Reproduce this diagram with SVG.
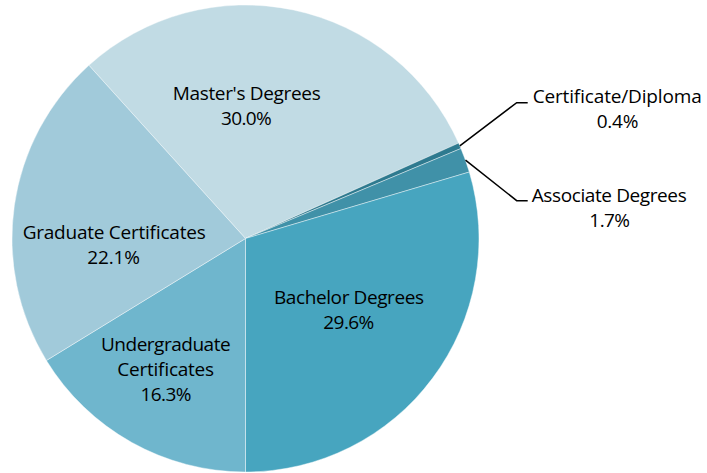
<svg xmlns="http://www.w3.org/2000/svg" width="707" height="473" viewBox="0 0 707 473">
<style>
.s{stroke:#ffffff;stroke-opacity:0.55;stroke-width:0.75;stroke-linejoin:round}
.t{font-family:"Open Sans","Noto Sans","Liberation Sans",sans-serif;font-size:19px;fill:#000;text-anchor:middle}
.ld{fill:none;stroke:#000;stroke-width:1.5}
</style>
<rect width="707" height="473" fill="#ffffff"/>
<g id="slice-masters">
<path class="s" fill="#C1DBE4" d="M245.5,238.5 L88.9,65.3 A233.5,233.5 0 0 1 458.6,143.1 Z"/>
<text class="t" x="246.7" y="100" textLength="148">Master's Degrees</text>
<text class="t" x="246.3" y="125" textLength="50.7">30.0%</text>
</g>
<g id="slice-certificate-diploma">
<path class="s" fill="#2E7A8F" d="M245.5,238.5 L458.6,143.1 A233.5,233.5 0 0 1 460.9,148.5 Z"/>
<text class="t" x="617.2" y="102.7" textLength="169">Certificate/Diploma</text>
<text class="t" x="617.5" y="127.5" textLength="41.7">0.4%</text>
</g>
<g id="slice-associate">
<path class="s" fill="#4091A8" d="M245.5,238.5 L460.9,148.5 A233.5,233.5 0 0 1 469.3,172 Z"/>
<text class="t" x="609.2" y="202" textLength="155">Associate Degrees</text>
<text class="t" x="609.7" y="226.7" textLength="40.7">1.7%</text>
</g>
<g id="slice-bachelor">
<path class="s" fill="#47A5BF" d="M245.5,238.5 L469.3,172 A233.5,233.5 0 0 1 245.5,472 Z"/>
<text class="t" x="349" y="304" textLength="150">Bachelor Degrees</text>
<text class="t" x="348.8" y="329.3" textLength="51">29.6%</text>
</g>
<g id="slice-undergraduate">
<path class="s" fill="#6FB6CD" d="M245.5,238.5 L245.5,472 A233.5,233.5 0 0 1 46.4,360.5 Z"/>
<text class="t" x="165.8" y="350.7" textLength="129.7">Undergraduate</text>
<text class="t" x="165.7" y="376.2" textLength="96.7">Certificates</text>
<text class="t" x="166" y="401" textLength="51">16.3%</text>
</g>
<g id="slice-graduate">
<path class="s" fill="#A1CADA" d="M245.5,238.5 L46.4,360.5 A233.5,233.5 0 0 1 88.9,65.3 Z"/>
<text class="t" x="114.2" y="239.3" textLength="183">Graduate Certificates</text>
<text class="t" x="113.7" y="264" textLength="52.7">22.1%</text>
</g>
<g id="connectors">
<polyline class="ld" points="459.8,145.8 516.7,102.7 527.7,102.7"/>
<polyline class="ld" points="465.5,160.1 516.7,200.7 527.7,200.7"/>
</g>
</svg>
